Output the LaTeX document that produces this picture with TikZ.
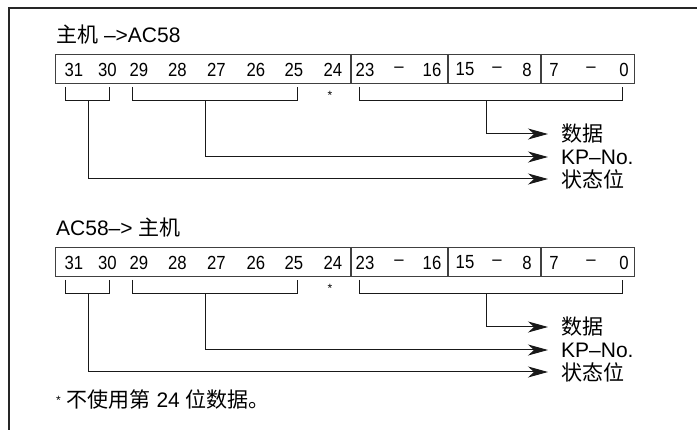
\documentclass[tikz,border=0pt]{standalone}
\usepackage{fontspec}
\setmainfont{Liberation Sans}
\newfontfamily\cjk{Noto Sans CJK SC}
\newfontfamily\bitfont[FakeStretch=0.88]{Liberation Sans}
\usetikzlibrary{arrows.meta}
\begin{document}
\begin{tikzpicture}[x=1pt,y=-1pt,
  frame/.style={line width=1.4pt, draw=black!85},
  regbox/.style={draw=black!75, line width=1.1pt},
  bit/.style={font=\bitfont\fontsize{19}{20}\selectfont, inner sep=0pt, anchor=center},
  conn/.style={line width=1pt, draw=black!90},
  arr/.style={conn, shorten >=12pt, -{Stealth[length=20pt,width=11pt,inset=6pt]}},
  lbl/.style={font=\fontsize{21}{23}\selectfont, anchor=west, inner sep=1pt},
  starmark/.style={font=\fontsize{12}{12}\selectfont, inner sep=0pt}]
\useasboundingbox (0,0) rectangle (697,430);
\draw[frame] (9,8) rectangle (720,450);
\node[lbl] (titlea) at (55,35) {{\cjk 主机} –>AC58};
\node[lbl] (titleb) at (55,228) {AC58–> {\cjk 主机}};
\foreach \s/\o in {a/0, b/193} {
  \begin{scope}[shift={(0,\o)}]
    \node[regbox, minimum width=579pt, minimum height=29pt, anchor=north west, inner sep=0pt] (box\s) at (55,54) {};
    \foreach \x in {351,448,541} \draw[regbox] (\x,54) -- (\x,83);
    \foreach \x/\t [count=\i] in {74/31, 107.5/30, 139/29, 177.5/28, 216.5/27, 256/26, 294/25, 333/24,
        365/23, 399/–, 432/16, 465/15, 497/–, 527/8, 554/7, 591/–, 624/0}
      \node[bit] (d\s-\i) at (\x,69.5) {\t};
    \node[starmark] (star\s) at (330,95) {*};
    % brackets
    \coordinate (bAl\s) at (65,87);  \coordinate (bAr\s) at (109,87);
    \coordinate (bBl\s) at (132,87); \coordinate (bBr\s) at (297,87);
    \coordinate (bCl\s) at (359,87); \coordinate (bCr\s) at (622,87);
    \coordinate (sA\s) at (88,101);  \coordinate (sB\s) at (205,101); \coordinate (sC\s) at (486,101);
    \draw[conn] (bAl\s) |- (bAr\s |- sA\s) -- (bAr\s);
    \draw[conn] (bBl\s) |- (bBr\s |- sB\s) -- (bBr\s);
    \draw[conn] (bCl\s) |- (bCr\s |- sC\s) -- (bCr\s);
    % labels
    \node[lbl] (data\s) at (560,134) {\cjk 数据};
    \node[lbl] (kp\s) at (560,157) {KP–No.};
    \node[lbl] (stat\s) at (560,179) {\cjk 状态位};
    \draw[arr] (sC\s) |- (data\s.west);
    \draw[arr] (sB\s) |- (kp\s.west);
    \draw[arr] (sA\s) |- (stat\s.west);
  \end{scope}
}
\node[lbl] (note) at (55,399) {\raisebox{3pt}{\fontsize{12}{12}\selectfont *} {\cjk 不使用第} 24 {\cjk 位数据。}};
\end{tikzpicture}
\end{document}
